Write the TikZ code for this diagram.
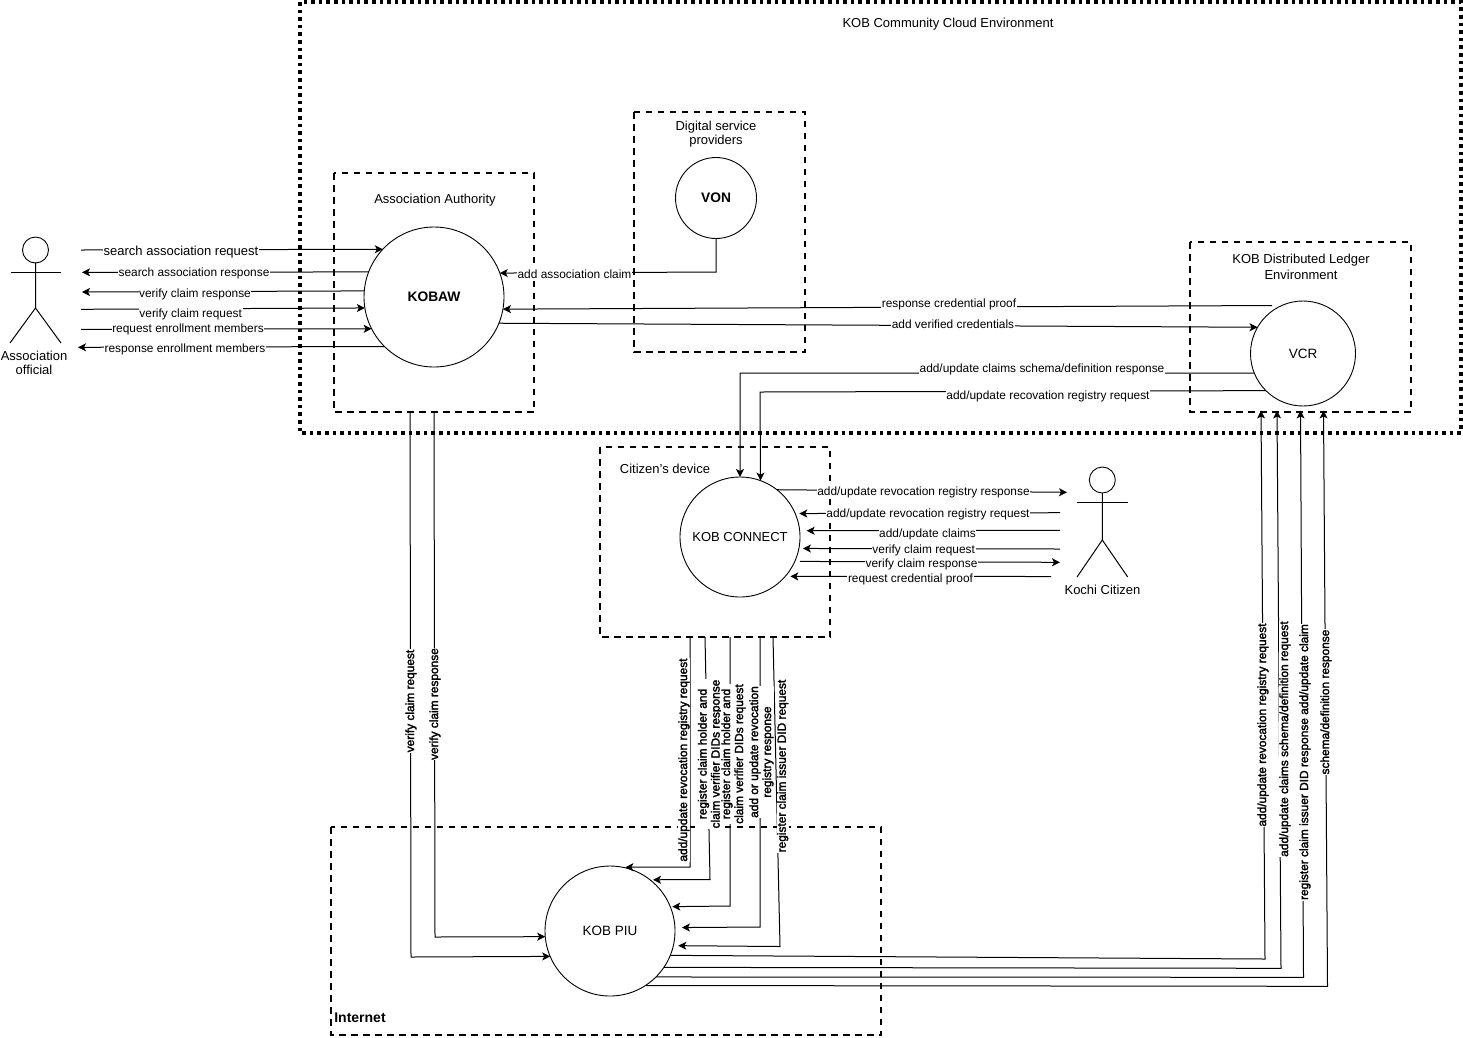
\documentclass[tikz,border=0pt]{standalone}
\usepackage{fontspec}
\setmainfont{Liberation Sans}
\usetikzlibrary{arrows.meta}
\tikzset{
  boxline/.style={draw,line width=1.8pt,dash pattern=on 6.5pt off 5.5pt},
  cloudline/.style={draw,line width=3.6pt,dash pattern=on 3.6pt off 4pt},
  roundel/.style={draw,circle,line width=.9pt,inner sep=0pt,outer sep=0pt,fill=white,font=\fontsize{13}{14}\selectfont},
  wire/.style={line width=1pt},
  arr/.style={wire,-{Stealth[length=8pt,width=8pt,inset=2pt]}},
  lab/.style={fill=white,inner sep=.6pt,yshift=-1pt,font=\fontsize{11.9}{13}\selectfont},
  rlab/.style={lab,yshift=0pt,rotate=90,align=center,font=\fontsize{11.9}{13}\selectfont\addfontfeature{FakeBold=2.2}},
  ttl/.style={inner sep=0pt,align=center,yshift=-1pt,font=\fontsize{13}{14}\selectfont},
  head/.style={draw,circle,line width=.9pt,minimum size=26pt,inner sep=0pt,outer sep=0pt}
}
\begin{document}
\begin{tikzpicture}[x=1pt,y=-1pt]
\useasboundingbox (0,0) rectangle (1463,1037);

% environment boundaries
\draw[cloudline] (300,2) rectangle (1461,433);
\draw[boxline] (334,173) rectangle (534,412);
\draw[boxline] (634,112) rectangle (805,352);
\draw[boxline] (1190,242) rectangle (1411,412);
\draw[boxline] (600,447) rectangle (830,637);
\draw[boxline] (331,827) rectangle (881,1035);

\node[ttl] (tcloud) at (948,23) {KOB Community Cloud Environment};
\node[ttl] (tauth) at (435,199) {Association Authority};
\node[ttl] (tdsp) at (716,133) {Digital service\\providers};
\node[ttl] (tledger) at (1301,266) {KOB Distributed Ledger\\[2pt]Environment};
\node[ttl] (tdevice) at (665,468) {Citizen's device};
\node[ttl,font=\fontsize{14}{14}\selectfont\bfseries] (tnet) at (360,1017) {Internet};

% processes
\node[roundel,minimum size=140pt,font=\fontsize{13.8}{14}\selectfont\bfseries] (kobaw) at (434,297) {\raisebox{-1pt}{KOBAW}};
\node[roundel,minimum size=81pt,font=\fontsize{13.8}{14}\selectfont\bfseries] (von) at (716,198) {\raisebox{-1pt}{VON}};
\node[roundel,minimum size=105pt,font=\fontsize{13.5}{14}\selectfont] (vcr) at (1303,353.5) {\raisebox{-.5pt}{VCR}};
\node[roundel,minimum size=120pt] (connect) at (740,537) {\raisebox{-1pt}{KOB CONNECT}};
\node[roundel,minimum size=130pt,font=\fontsize{13.5}{14}\selectfont] (piu) at (610,931) {\raisebox{-1pt}{KOB PIU}};

% actors
\node[head] (offhead) at (35.5,250) {};
\coordinate (offhip) at (35.5,308);
\draw[wire] (offhead.south) -- (offhip) -- (10,343);
\draw[wire] (offhip) -- (61,343);
\draw[wire] (10.5,272) -- (60.5,272);
\node[ttl] (offname) at (34,361.5) {Association\\official};

\node[head] (cithead) at (1102.3,480) {};
\coordinate (cithip) at (1102.3,540);
\draw[wire] (cithead.south) -- (cithip) -- (1077,577);
\draw[wire] (cithip) -- (1127.7,577);
\draw[wire] (1077,502.7) -- (1127.7,502.7);
\node[ttl] (citname) at (1102.5,589) {Kochi Citizen};

% free ends at the official
\coordinate (oa) at (81,250);
\coordinate (ob) at (82,272.3);
\coordinate (oc) at (82,292);
\coordinate (od) at (81,309.3);
\coordinate (oe) at (81,329.3);
\coordinate (of) at (78,347.3);
\draw[arr] (oa) -- (kobaw.137.8);
\draw[arr] (kobaw.159.1) -- (ob);
\draw[arr] (kobaw.175.9) -- (oc);
\draw[arr] (od) -- (kobaw.189.9);
\draw[arr] (oe) -- (kobaw.207.2);
\draw[arr] (kobaw.225.6) -- (of);

% cloud-side exchanges
\coordinate (vonbend) at (716,272);
\draw[arr] (von.south) -- (vonbend) -- (kobaw.20.9);
\coordinate (proofstart) at (1272,305.5);
\draw[arr] (proofstart) -- (kobaw.-10.7);
\draw[arr] (kobaw.-22.7) -- (vcr.150.6);
\coordinate (schemabend) at (740,373);
\draw[arr] (vcr.202.2) -- (schemabend) -- (connect.north);
\coordinate (revbend) at (760,392);
\draw[arr] (vcr.225.8) -- (revbend) -- (connect.70.5);

% exchanges with the citizen
\coordinate (ca) at (1067,492.3);
\coordinate (cb) at (1060,512.7);
\coordinate (cc) at (1060,530.3);
\coordinate (cd) at (1060,549);
\coordinate (ce) at (1060,562.3);
\coordinate (cf) at (1051,576.5);
\draw[arr] (connect.52.4) -- (ca);
\draw[arr,shorten >=4pt] (cb) -- (connect.23.6);
\draw[arr,shorten >=7pt] (cc) -- (connect.6.7);
\draw[arr,shorten >=4pt] (cd) -- (connect.-11.5);
\draw[arr,shorten <=5pt] (connect.-24.6) -- (ce);
\draw[arr,shorten >=5pt] (cf) -- (connect.-41.8);

% authority to the internet-side service
\coordinate (vqa) at (410,412);
\coordinate (vqb) at (411,957);
\coordinate (vra) at (434,412);
\coordinate (vrb) at (435,937);
\draw[arr] (vqa) -- (vqb) -- (piu.203.6);
\draw[arr] (vra) -- (vrb) -- (piu.185.3);

% device to the internet-side service
\coordinate (da) at (690,637);
\coordinate (db) at (690,867);
\coordinate (ea) at (705,637);
\coordinate (eb) at (710,879.5);
\coordinate (fa) at (730,637);
\coordinate (fb) at (730,906);
\coordinate (ga) at (760,637);
\coordinate (gb) at (760,927);
\coordinate (ha) at (773,637);
\coordinate (hb) at (780,946.5);
\draw[arr,shorten >=3pt] (da) -- (db) -- (piu.79);
\draw[arr,shorten >=3pt] (ea) -- (eb) -- (piu.52);
\draw[arr,shorten >=2pt] (fa) -- (fb) -- (piu.22.6);
\draw[arr,shorten >=7pt] (ga) -- (gb) -- (piu.3.5);
\draw[arr,shorten >=5pt] (ha) -- (hb) -- (piu.-13.8);

% service to the ledger
\coordinate (pa) at (1265,959);
\coordinate (pb) at (1261,410.5);
\coordinate (qa) at (1281,968.3);
\coordinate (qb) at (1277,410.5);
\coordinate (ra) at (1303.5,977.3);
\coordinate (rb) at (1300.5,410.5);
\coordinate (sa) at (1327.5,986.3);
\coordinate (sb) at (1323.5,410.5);
\draw[arr] (piu.-22.6) -- (pa) -- (pb);
\draw[arr] (piu.-34.7) -- (qa) -- (qb);
\draw[arr] (piu.-45) -- (ra) -- (rb);
\draw[arr] (piu.-57.8) -- (sa) -- (sb);

% flow labels
\node[lab,font=\fontsize{13}{14}\selectfont] (l1) at (181,251.5) {search association request};
\node[lab] (l2) at (194,272.5) {search association response};
\node[lab] (l3) at (195,293) {verify claim response};
\node[lab] (l4) at (190.7,313) {verify claim request};
\node[lab] (l5) at (188,328) {request enrollment members};
\node[lab] (l6) at (185,348) {response enrollment members};
\node[lab] (l7) at (574.5,273) {add association claim};
\node[lab] (l8) at (949,303) {response credential proof};
\node[lab] (l9) at (953,323) {add verified credentials};
\node[lab] (l10) at (1042,368) {add/update claims schema/definition response};
\node[lab] (l11) at (1048,395) {add/update recovation registry request};
\node[lab] (l12) at (923.5,491) {add/update revocation registry response};
\node[lab] (l13) at (928,513) {add/update revocation registry request};
\node[lab] (l14) at (927.5,533) {add/update claims};
\node[lab] (l15) at (923.7,549) {verify claim request};
\node[lab] (l16) at (921.5,563) {verify claim response};
\node[lab] (l17) at (910.5,578) {request credential proof};
\node[rlab] (l18) at (411,700) {verify claim request};
\node[rlab] (l19) at (435,703) {verify claim response};
\node[rlab] (l20) at (684,759) {add/update revocation registry request};
\node[rlab] (l21) at (710,753) {register claim holder and\\claim verifier DIDs response};
\node[rlab] (l22) at (733.5,753) {register claim holder and\\claim verifier DIDs request};
\node[rlab] (l23) at (761.5,751) {add or update revocation\\registry response};
\node[rlab] (l24) at (782.7,765) {register claim issuer DID request};
\node[rlab] (l25) at (1263,724) {add/update revocation registry request};
\node[rlab] (l26) at (1285,738) {add/update claims schema/definition request};
\node[rlab] (l27) at (1305,761) {register claim issuer DID response add/update claim};
\node[rlab] (l28) at (1326,701) {schema/definition response};
\end{tikzpicture}
\end{document}
